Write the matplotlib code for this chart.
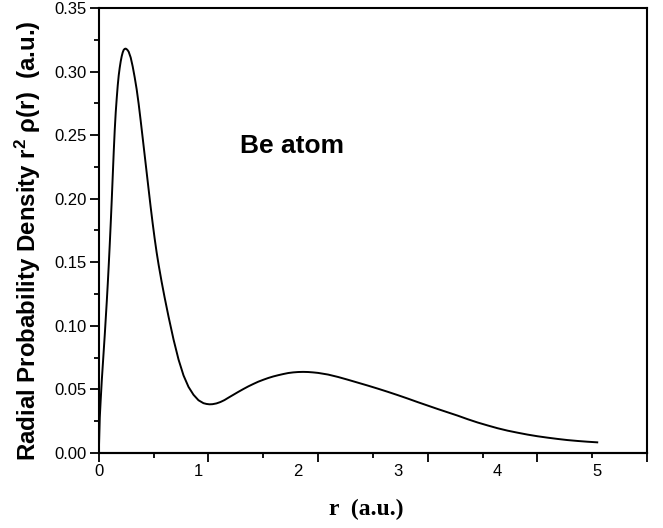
import numpy as np
import matplotlib
matplotlib.use("Agg")
from matplotlib import pyplot as plt
from matplotlib.ticker import FixedLocator, NullFormatter

# radial probability density of Be
r = [0.00, 0.01, 0.02, 0.03, 0.04, 0.05, 0.06, 0.07, 0.08, 0.09,
     0.10, 0.11, 0.12, 0.13, 0.14, 0.15, 0.16, 0.17, 0.18, 0.19,
     0.20, 0.21, 0.22, 0.23, 0.24, 0.25, 0.26, 0.27, 0.28, 0.29,
     0.30, 0.32, 0.34, 0.36, 0.38, 0.40, 0.42, 0.44, 0.46, 0.48,
     0.50, 0.52, 0.54, 0.56, 0.58, 0.60, 0.63, 0.66, 0.70, 0.75,
     0.80, 0.85, 0.90, 0.95, 1.00, 1.05, 1.08, 1.11, 1.14, 1.18,
     1.22, 1.26, 1.30, 1.35, 1.40, 1.45, 1.50, 1.55, 1.60, 1.65,
     1.70, 1.75, 1.80, 1.85, 1.90, 1.95, 2.00, 2.05, 2.10, 2.15,
     2.20, 2.30, 2.40, 2.50, 2.60, 2.70, 2.80, 2.90, 3.00, 3.10,
     3.20, 3.30, 3.40, 3.50, 3.60, 3.70, 3.80, 3.90, 4.00, 4.10,
     4.20, 4.30, 4.40, 4.50, 4.60, 4.70, 4.80, 4.90, 5.00]
density = [0.000, 0.028, 0.043, 0.057, 0.069, 0.081, 0.093, 0.106, 0.119, 0.133,
           0.148, 0.164, 0.181, 0.199, 0.218, 0.237, 0.254, 0.268, 0.279, 0.289,
           0.297, 0.303, 0.308, 0.312, 0.315, 0.317, 0.3178, 0.3180, 0.3175, 0.3167,
           0.3155, 0.311, 0.304, 0.2955, 0.286, 0.2745, 0.2615, 0.248, 0.2344, 0.2208,
           0.2072, 0.1937, 0.1809, 0.1689, 0.1579, 0.1481, 0.1348, 0.1225, 0.1071, 0.0892,
           0.0735, 0.0610, 0.0520, 0.0458, 0.0415, 0.0392, 0.0386, 0.0383, 0.0384, 0.0390,
           0.0401, 0.0416, 0.0435, 0.0458, 0.0481, 0.0503, 0.0524, 0.0543, 0.0561, 0.0576,
           0.0590, 0.0602, 0.0612, 0.0621, 0.0629, 0.0634, 0.0637, 0.0638, 0.0637, 0.0634,
           0.0630, 0.0617, 0.0598, 0.0576, 0.0553, 0.0530, 0.0506, 0.0481, 0.0455, 0.0428,
           0.0400, 0.0373, 0.0346, 0.0320, 0.0294, 0.0266, 0.0240, 0.0217, 0.0195, 0.0176,
           0.0160, 0.0145, 0.0132, 0.0121, 0.0111, 0.0102, 0.0095, 0.0089, 0.0084]

x_labels = [0, 1, 2, 3, 4, 5]
y_ticks = [0.00, 0.05, 0.10, 0.15, 0.20, 0.25, 0.30, 0.35]

plt.rcParams['font.family'] = ['Liberation Sans', 'DejaVu Sans']
plt.rcParams['mathtext.fontset'] = 'custom'
plt.rcParams['mathtext.bf'] = 'Liberation Sans:bold'
plt.rcParams['mathtext.default'] = 'bf'

fig = plt.figure(figsize=(6.63, 5.28), dpi=100)
ax = fig.add_axes([0.149, 0.142, 0.827, 0.843])

ax.plot(r, density, color='black', lw=1.4)

ax.set_xlim(0, 5.5)
ax.set_ylim(0, 0.35)

for s in ax.spines.values():
    s.set_linewidth(1.5)

# x: labels at integers, tick marks on a separate 0.55 grid (as in the original)
ax.set_xticks(x_labels)
ax.tick_params(axis='x', which='major', length=0, pad=8, labelsize=12)
sec = ax.secondary_xaxis('bottom')
sec.xaxis.set_major_locator(FixedLocator(np.arange(0, 5.51, 1.1)))
sec.xaxis.set_minor_locator(FixedLocator(np.arange(0.55, 5.5, 1.1)))
sec.xaxis.set_major_formatter(NullFormatter())
sec.tick_params(which='major', direction='out', length=6.5, width=1.3)
sec.tick_params(which='minor', direction='out', length=3.6, width=1.3)
sec.spines['bottom'].set_linewidth(1.5)

ax.set_yticks(y_ticks)
ax.set_yticklabels(['%.2f' % v for v in y_ticks])
ax.yaxis.set_minor_locator(FixedLocator(np.arange(0.025, 0.35, 0.05)))
ax.tick_params(axis='y', which='major', direction='out', length=6.5, width=1.3,
               labelsize=12, pad=2)
ax.tick_params(axis='y', which='minor', direction='out', length=3.6, width=1.3)

ax.set_ylabel(r'Radial Probability Density r$^2$ $\rho$(r)  (a.u.)',
              fontsize=17.3, fontweight='bold')
ax.yaxis.set_label_coords(-0.101, 0.478)
ax.set_xlabel('r  (a.u.)', fontsize=17, fontweight='bold',
              family=['Liberation Serif', 'DejaVu Serif'])
ax.xaxis.set_label_coords(0.487, -0.102)

ax.text(1.42, 0.236, 'Be atom', fontsize=19, fontweight='bold',
        ha='left', va='baseline')

fig.savefig('out.png', dpi=100)
